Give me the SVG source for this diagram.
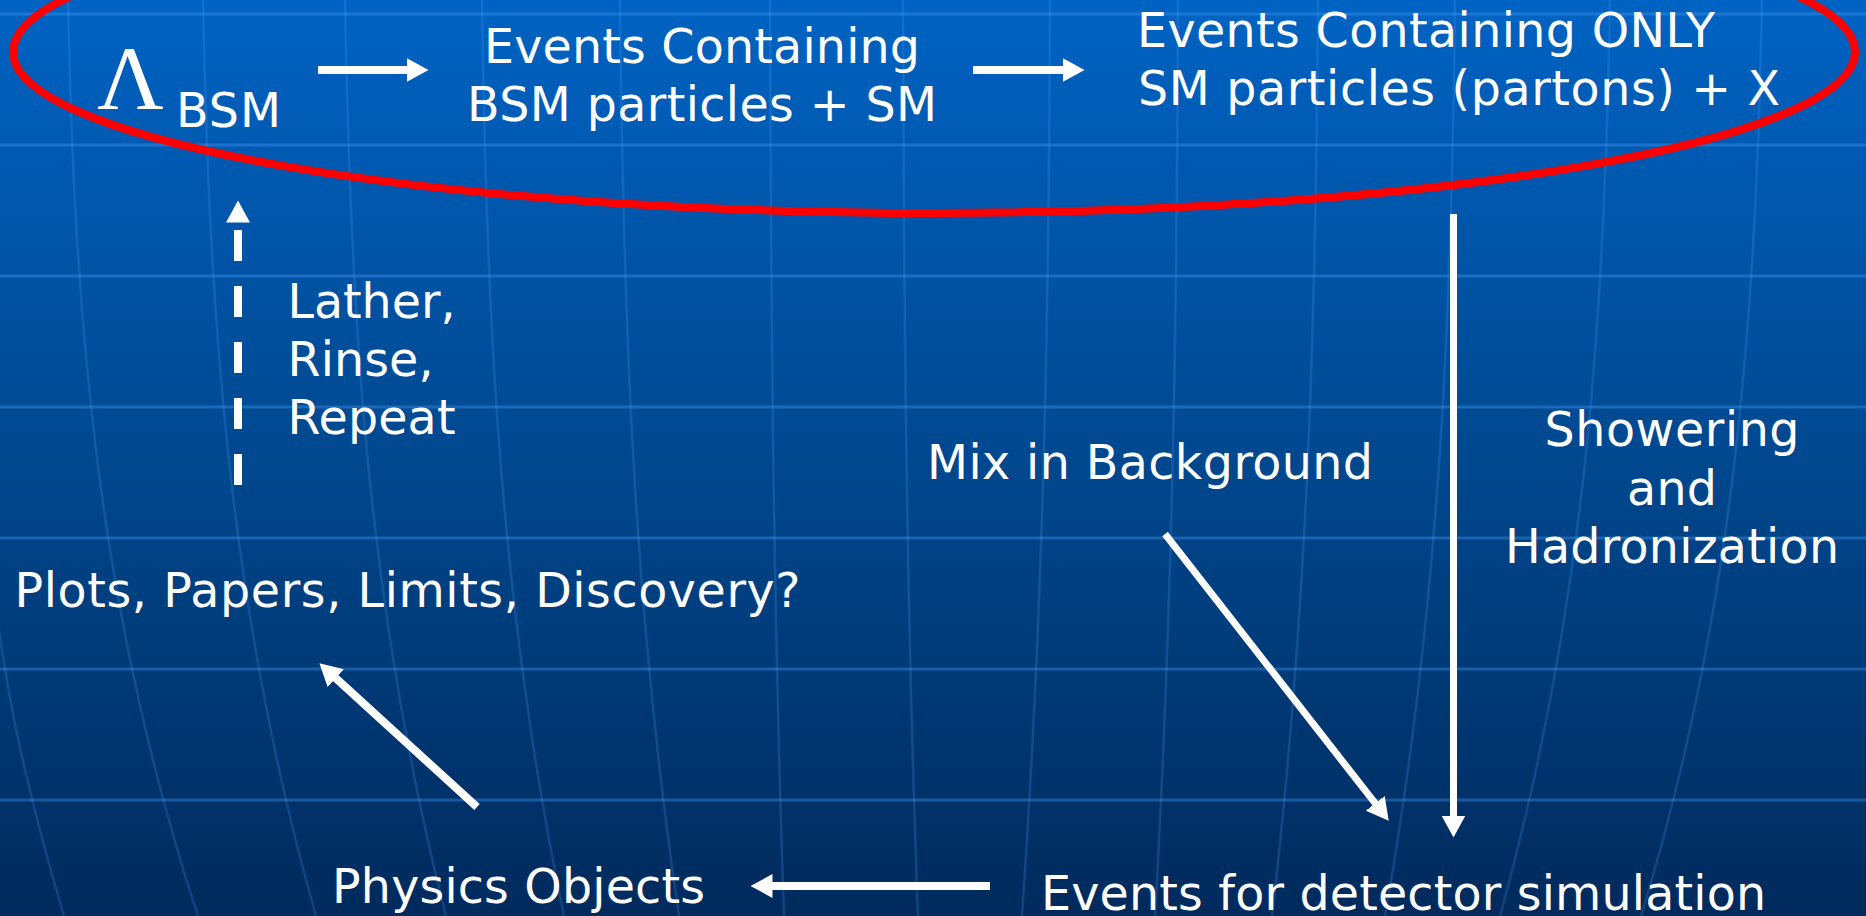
<svg xmlns="http://www.w3.org/2000/svg" width="1866" height="916" viewBox="0 0 1866 916">
  <defs>
    <linearGradient id="bg" x1="0" y1="0" x2="0" y2="1">
      <stop offset="0" stop-color="#0063c3"/>
      <stop offset="0.5" stop-color="#00488f"/>
      <stop offset="1" stop-color="#002a5c"/>
    </linearGradient>
    <marker id="ah" markerUnits="userSpaceOnUse" viewBox="0 0 22 24" markerWidth="22" markerHeight="24" refX="0.5" refY="12" orient="auto">
      <path d="M0,0 L22,12 L0,24 z" fill="#ffffff"/>
    </marker>
    <style>
      .hl { stroke: #4aa0ff; stroke-opacity: 0.35; stroke-width: 3; fill: none; }
      .mer { stroke: #4aa0ff; stroke-opacity: 0.22; stroke-width: 2.5; fill: none; }
      .t { font-family: "DejaVu Sans", Verdana, sans-serif; font-size: 47.5px; fill: #ffffff; }
      .sym { font-family: "Liberation Serif", "Times New Roman", serif; font-size: 92px; fill: #ffffff; }
      .arr { stroke: #ffffff; stroke-width: 8; fill: none; marker-end: url(#ah); }
      .dash { stroke-dasharray: 31 25; }
    </style>
  </defs>

  <g id="background">
    <rect x="0" y="0" width="1866" height="916" fill="url(#bg)"/>
    <g id="grid-h">
      <line class="hl" x1="0" y1="14" x2="1866" y2="14"/>
      <line class="hl" x1="0" y1="145" x2="1866" y2="145"/>
      <line class="hl" x1="0" y1="276" x2="1866" y2="276"/>
      <line class="hl" x1="0" y1="407" x2="1866" y2="407"/>
      <line class="hl" x1="0" y1="538" x2="1866" y2="538"/>
      <line class="hl" x1="0" y1="669" x2="1866" y2="669"/>
      <line class="hl" x1="0" y1="800" x2="1866" y2="800"/>
    </g>
    <g id="grid-v">
      <path class="mer" d="M-10,560 C5,700 30,800 64,916"/>
      <path class="mer" d="M68,0 C74,300 94,600 198,916"/>
      <path class="mer" d="M203,0 C209,300 226,600 316,916"/>
      <path class="mer" d="M345,0 C350,300 365,600 446,916"/>
      <path class="mer" d="M482,0 C486,300 498,600 564,916"/>
      <path class="mer" d="M620,0 C623,300 632,600 679,916"/>
      <path class="mer" d="M770,0 C771,300 773,600 784,916"/>
      <path class="mer" d="M903,0 C904,300 906,600 918,916"/>
      <path class="mer" d="M1050,0 C1049,300 1044,600 1022,916"/>
      <path class="mer" d="M1178,0 C1177,300 1173,600 1155,916"/>
      <path class="mer" d="M1318,0 C1316,300 1309,600 1272,916"/>
      <path class="mer" d="M1455,0 C1452,300 1441,600 1385,916"/>
      <path class="mer" d="M1610,0 C1605,300 1588,600 1500,916"/>
      <path class="mer" d="M1762,0 C1756,300 1738,600 1641,916"/>
    </g>
  </g>

  <g id="highlight-ellipse">
    <ellipse cx="934" cy="52" rx="921" ry="161" fill="none" stroke="#ff0000" stroke-width="8"/>
  </g>

  <g id="connectors">
    <line class="arr" x1="318" y1="70" x2="407" y2="70"/>
    <line class="arr" x1="973" y1="70" x2="1063" y2="70"/>
    <line class="arr" x1="1453.5" y1="214" x2="1453.5" y2="816" style="stroke-width:7"/>
    <line class="arr" x1="1165" y1="534" x2="1375.5" y2="803.7" style="stroke-width:7"/>
    <line class="arr" x1="990" y1="886" x2="772" y2="886"/>
    <line class="arr" x1="477" y1="807" x2="335.3" y2="677.8"/>
    <line class="arr dash" x1="238" y1="485" x2="238" y2="222"/>
  </g>

  <g id="node-lambda">
    <text class="sym" x="97" y="109">Λ</text>
    <text class="t" x="176" y="127" textLength="105">BSM</text>
  </g>

  <g id="node-bsm-events">
    <text class="t" x="702" y="63" text-anchor="middle" textLength="436">Events Containing</text>
    <text class="t" x="702" y="121" text-anchor="middle" textLength="470">BSM particles + SM</text>
  </g>

  <g id="node-sm-events">
    <text class="t" x="1137" y="47" textLength="578">Events Containing ONLY</text>
    <text class="t" x="1138" y="105" textLength="642">SM particles (partons) + X</text>
  </g>

  <g id="label-showering">
    <text class="t" x="1672" y="446" text-anchor="middle" textLength="255">Showering</text>
    <text class="t" x="1672" y="505" text-anchor="middle" textLength="90">and</text>
    <text class="t" x="1672" y="563" text-anchor="middle" textLength="334">Hadronization</text>
  </g>

  <g id="node-background">
    <text class="t" x="927" y="479" textLength="446">Mix in Background</text>
  </g>

  <g id="node-detector">
    <text class="t" x="1041" y="910" textLength="725">Events for detector simulation</text>
  </g>

  <g id="node-physics-objects">
    <text class="t" x="332" y="903" textLength="373">Physics Objects</text>
  </g>

  <g id="node-plots">
    <text class="t" x="14.5" y="606.5" textLength="786">Plots, Papers, Limits, Discovery?</text>
  </g>

  <g id="label-repeat">
    <text class="t" x="287.5" y="318" textLength="168">Lather,</text>
    <text class="t" x="287.5" y="376" textLength="146">Rinse,</text>
    <text class="t" x="287.5" y="434" textLength="168">Repeat</text>
  </g>
</svg>
